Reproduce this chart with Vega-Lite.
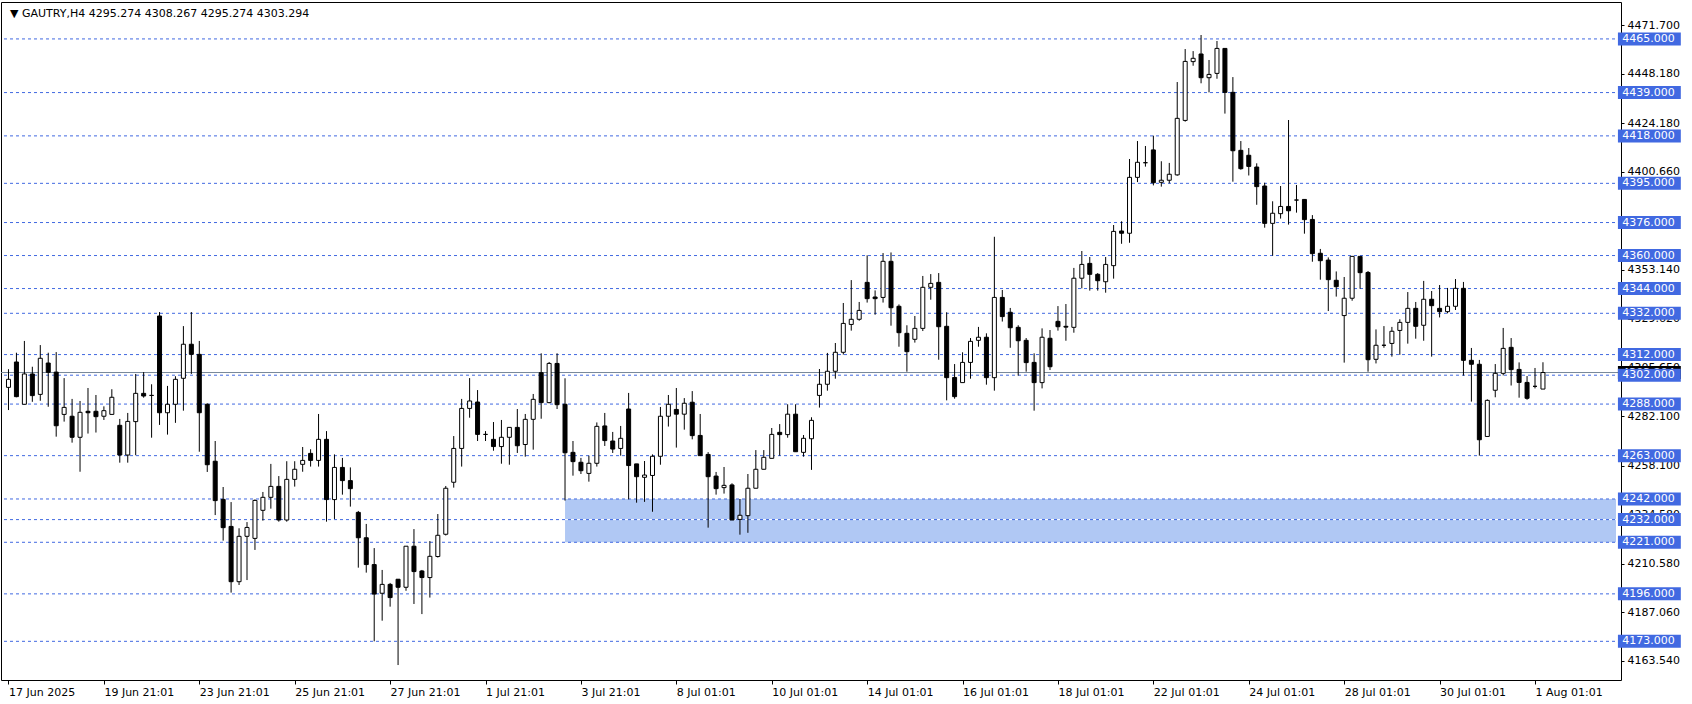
{
  "$schema": "https://vega.github.io/schema/vega-lite/v6.json",
  "width": 1620,
  "height": 678,
  "autosize": {"type": "none"},
  "padding": {"left": 1, "top": 2, "right": 71, "bottom": 24},
  "background": "white",
  "config": {"view": {"stroke": "black", "strokeWidth": 1}, "font": "DejaVu Sans"},
  "datasets": {
    "candles": [
      {"i":0,"o":4296.1,"h":4304.9,"l":4285.1,"c":4300.0},
      {"i":1,"o":4308.4,"h":4312.9,"l":4291.3,"c":4291.6},
      {"i":2,"o":4287.9,"h":4318.6,"l":4287.9,"c":4302.6},
      {"i":3,"o":4302.6,"h":4306.1,"l":4289.1,"c":4292.1},
      {"i":4,"o":4292.7,"h":4316.6,"l":4289.6,"c":4310.2},
      {"i":5,"o":4307.9,"h":4312.9,"l":4286.7,"c":4303.4},
      {"i":6,"o":4303.5,"h":4313.2,"l":4272.2,"c":4277.5},
      {"i":7,"o":4283.0,"h":4300.6,"l":4279.5,"c":4286.4},
      {"i":8,"o":4282.1,"h":4290.5,"l":4269.3,"c":4271.9},
      {"i":9,"o":4271.9,"h":4289.5,"l":4255.2,"c":4284.0},
      {"i":10,"o":4284.5,"h":4295.8,"l":4273.7,"c":4283.8},
      {"i":11,"o":4284.5,"h":4292.4,"l":4274.2,"c":4281.9},
      {"i":12,"o":4282.1,"h":4286.9,"l":4280.3,"c":4284.8},
      {"i":13,"o":4283.0,"h":4295.2,"l":4283.0,"c":4291.3},
      {"i":14,"o":4277.7,"h":4280.8,"l":4259.6,"c":4263.3},
      {"i":15,"o":4263.3,"h":4283.7,"l":4259.6,"c":4279.6},
      {"i":16,"o":4279.5,"h":4302.6,"l":4263.2,"c":4293.2},
      {"i":17,"o":4293.2,"h":4303.5,"l":4291.1,"c":4291.9},
      {"i":18,"o":4292.2,"h":4297.6,"l":4271.7,"c":4292.2},
      {"i":19,"o":4330.7,"h":4332.6,"l":4277.9,"c":4283.8},
      {"i":20,"o":4283.8,"h":4296.8,"l":4273.2,"c":4287.9},
      {"i":21,"o":4287.9,"h":4301.5,"l":4278.9,"c":4300.0},
      {"i":22,"o":4300.5,"h":4325.8,"l":4284.8,"c":4317.0},
      {"i":23,"o":4317.0,"h":4332.6,"l":4302.6,"c":4312.1},
      {"i":24,"o":4312.1,"h":4318.6,"l":4264.9,"c":4283.8},
      {"i":25,"o":4287.9,"h":4288.4,"l":4255.1,"c":4258.6},
      {"i":26,"o":4260.3,"h":4270.1,"l":4234.2,"c":4241.2},
      {"i":27,"o":4241.8,"h":4247.8,"l":4221.8,"c":4228.1},
      {"i":28,"o":4228.7,"h":4240.5,"l":4196.6,"c":4201.9},
      {"i":29,"o":4201.9,"h":4227.8,"l":4200.3,"c":4223.9},
      {"i":30,"o":4223.9,"h":4230.8,"l":4202.7,"c":4228.2},
      {"i":31,"o":4222.9,"h":4241.8,"l":4217.3,"c":4241.3},
      {"i":32,"o":4236.5,"h":4245.4,"l":4231.5,"c":4242.8},
      {"i":33,"o":4242.8,"h":4259.0,"l":4237.3,"c":4248.1},
      {"i":34,"o":4248.1,"h":4253.1,"l":4231.0,"c":4231.8},
      {"i":35,"o":4231.8,"h":4260.3,"l":4231.0,"c":4251.5},
      {"i":36,"o":4251.5,"h":4260.3,"l":4248.0,"c":4256.4},
      {"i":37,"o":4258.8,"h":4267.2,"l":4255.2,"c":4260.7},
      {"i":38,"o":4264.1,"h":4266.1,"l":4257.7,"c":4260.7},
      {"i":39,"o":4260.7,"h":4283.2,"l":4257.7,"c":4270.9},
      {"i":40,"o":4270.9,"h":4274.9,"l":4231.0,"c":4241.7},
      {"i":41,"o":4241.7,"h":4263.6,"l":4232.3,"c":4257.3},
      {"i":42,"o":4257.3,"h":4261.9,"l":4244.1,"c":4250.9},
      {"i":43,"o":4250.9,"h":4257.3,"l":4238.3,"c":4247.0},
      {"i":44,"o":4235.5,"h":4236.2,"l":4208.7,"c":4223.2},
      {"i":45,"o":4223.2,"h":4229.9,"l":4206.3,"c":4210.2},
      {"i":46,"o":4210.2,"h":4218.2,"l":4173.0,"c":4195.9},
      {"i":47,"o":4196.3,"h":4207.6,"l":4183.0,"c":4200.6},
      {"i":48,"o":4200.6,"h":4201.3,"l":4189.8,"c":4194.2},
      {"i":49,"o":4203.1,"h":4203.1,"l":4161.5,"c":4199.2},
      {"i":50,"o":4199.2,"h":4219.1,"l":4197.5,"c":4219.1},
      {"i":51,"o":4219.1,"h":4227.4,"l":4191.1,"c":4206.8},
      {"i":52,"o":4207.1,"h":4207.6,"l":4186.2,"c":4203.9},
      {"i":53,"o":4203.9,"h":4221.6,"l":4194.2,"c":4214.2},
      {"i":54,"o":4214.1,"h":4234.7,"l":4213.6,"c":4224.4},
      {"i":55,"o":4224.9,"h":4248.3,"l":4224.3,"c":4247.2},
      {"i":56,"o":4250.1,"h":4272.5,"l":4247.5,"c":4266.5},
      {"i":57,"o":4266.5,"h":4290.5,"l":4257.7,"c":4285.9},
      {"i":58,"o":4285.9,"h":4300.6,"l":4281.4,"c":4289.5},
      {"i":59,"o":4289.0,"h":4294.8,"l":4270.1,"c":4273.3},
      {"i":60,"o":4273.3,"h":4274.9,"l":4270.1,"c":4273.3},
      {"i":61,"o":4270.9,"h":4279.3,"l":4265.4,"c":4267.4},
      {"i":62,"o":4267.4,"h":4280.3,"l":4259.1,"c":4271.9},
      {"i":63,"o":4271.9,"h":4276.7,"l":4258.6,"c":4276.7},
      {"i":64,"o":4276.7,"h":4285.6,"l":4264.3,"c":4267.8},
      {"i":65,"o":4268.4,"h":4283.2,"l":4262.5,"c":4280.6},
      {"i":66,"o":4280.6,"h":4292.9,"l":4265.9,"c":4290.3},
      {"i":67,"o":4303.2,"h":4312.6,"l":4280.9,"c":4288.7},
      {"i":68,"o":4288.7,"h":4308.4,"l":4288.4,"c":4307.7},
      {"i":69,"o":4307.7,"h":4312.6,"l":4285.6,"c":4287.7},
      {"i":70,"o":4287.9,"h":4300.5,"l":4241.2,"c":4264.4},
      {"i":71,"o":4264.6,"h":4270.1,"l":4253.3,"c":4260.1},
      {"i":72,"o":4259.8,"h":4261.9,"l":4254.1,"c":4255.7},
      {"i":73,"o":4254.4,"h":4263.0,"l":4250.4,"c":4259.3},
      {"i":74,"o":4259.3,"h":4279.1,"l":4257.7,"c":4277.2},
      {"i":75,"o":4277.4,"h":4283.7,"l":4267.7,"c":4270.3},
      {"i":76,"o":4270.1,"h":4274.5,"l":4264.3,"c":4266.2},
      {"i":77,"o":4266.5,"h":4277.4,"l":4263.0,"c":4271.4},
      {"i":78,"o":4285.6,"h":4293.4,"l":4241.8,"c":4258.2},
      {"i":79,"o":4259.0,"h":4259.0,"l":4240.2,"c":4252.8},
      {"i":80,"o":4252.5,"h":4260.4,"l":4240.6,"c":4253.6},
      {"i":81,"o":4253.4,"h":4263.6,"l":4235.8,"c":4262.7},
      {"i":82,"o":4262.7,"h":4286.6,"l":4258.6,"c":4282.1},
      {"i":83,"o":4282.1,"h":4292.4,"l":4277.1,"c":4287.9},
      {"i":84,"o":4285.4,"h":4295.8,"l":4266.9,"c":4283.1},
      {"i":85,"o":4283.1,"h":4290.9,"l":4275.6,"c":4288.4},
      {"i":86,"o":4288.9,"h":4294.3,"l":4270.9,"c":4272.7},
      {"i":87,"o":4272.8,"h":4283.2,"l":4263.0,"c":4263.0},
      {"i":88,"o":4263.6,"h":4264.7,"l":4228.1,"c":4252.8},
      {"i":89,"o":4253.1,"h":4255.1,"l":4244.1,"c":4247.0},
      {"i":90,"o":4247.5,"h":4257.5,"l":4244.6,"c":4248.6},
      {"i":91,"o":4248.8,"h":4249.6,"l":4231.8,"c":4231.8},
      {"i":92,"o":4232.1,"h":4242.0,"l":4224.7,"c":4234.1},
      {"i":93,"o":4233.9,"h":4254.1,"l":4225.6,"c":4247.2},
      {"i":94,"o":4247.2,"h":4265.7,"l":4247.2,"c":4256.4},
      {"i":95,"o":4256.4,"h":4265.7,"l":4256.4,"c":4262.2},
      {"i":96,"o":4261.7,"h":4276.4,"l":4261.7,"c":4273.3},
      {"i":97,"o":4274.3,"h":4278.3,"l":4263.0,"c":4273.2},
      {"i":98,"o":4273.2,"h":4287.9,"l":4271.7,"c":4283.1},
      {"i":99,"o":4283.1,"h":4287.9,"l":4264.9,"c":4264.9},
      {"i":100,"o":4264.6,"h":4273.0,"l":4262.5,"c":4271.4},
      {"i":101,"o":4271.2,"h":4281.6,"l":4256.1,"c":4280.1},
      {"i":102,"o":4292.2,"h":4305.0,"l":4286.3,"c":4297.6},
      {"i":103,"o":4297.6,"h":4312.8,"l":4294.5,"c":4303.9},
      {"i":104,"o":4303.9,"h":4317.6,"l":4300.3,"c":4313.1},
      {"i":105,"o":4313.1,"h":4337.0,"l":4312.0,"c":4327.1},
      {"i":106,"o":4326.6,"h":4348.1,"l":4323.6,"c":4329.1},
      {"i":107,"o":4329.1,"h":4337.5,"l":4328.4,"c":4333.4},
      {"i":108,"o":4347.0,"h":4360.1,"l":4337.2,"c":4339.1},
      {"i":109,"o":4339.9,"h":4343.1,"l":4331.3,"c":4339.1},
      {"i":110,"o":4339.7,"h":4361.2,"l":4337.2,"c":4357.2},
      {"i":111,"o":4357.2,"h":4361.5,"l":4326.0,"c":4334.7},
      {"i":112,"o":4335.4,"h":4336.3,"l":4315.8,"c":4322.6},
      {"i":113,"o":4322.3,"h":4326.2,"l":4303.7,"c":4313.4},
      {"i":114,"o":4319.4,"h":4330.7,"l":4317.8,"c":4324.7},
      {"i":115,"o":4324.7,"h":4350.1,"l":4323.4,"c":4344.6},
      {"i":116,"o":4344.6,"h":4351.0,"l":4338.6,"c":4346.5},
      {"i":117,"o":4347.0,"h":4351.5,"l":4309.5,"c":4325.5},
      {"i":118,"o":4325.7,"h":4332.5,"l":4289.8,"c":4300.8},
      {"i":119,"o":4300.9,"h":4307.4,"l":4290.6,"c":4291.6},
      {"i":120,"o":4298.4,"h":4313.1,"l":4298.4,"c":4308.2},
      {"i":121,"o":4308.2,"h":4320.0,"l":4300.3,"c":4318.4},
      {"i":122,"o":4318.9,"h":4325.4,"l":4315.8,"c":4320.4},
      {"i":123,"o":4320.4,"h":4322.3,"l":4297.4,"c":4300.8},
      {"i":124,"o":4300.8,"h":4369.1,"l":4294.5,"c":4339.7},
      {"i":125,"o":4339.7,"h":4343.3,"l":4328.0,"c":4330.4},
      {"i":126,"o":4332.5,"h":4334.6,"l":4315.3,"c":4325.0},
      {"i":127,"o":4325.2,"h":4326.2,"l":4301.8,"c":4318.7},
      {"i":128,"o":4318.9,"h":4320.0,"l":4303.7,"c":4308.1},
      {"i":129,"o":4308.2,"h":4312.6,"l":4284.8,"c":4298.4},
      {"i":130,"o":4298.4,"h":4324.7,"l":4295.6,"c":4320.4},
      {"i":131,"o":4319.9,"h":4323.9,"l":4304.5,"c":4306.1},
      {"i":132,"o":4328.1,"h":4335.5,"l":4323.6,"c":4325.5},
      {"i":133,"o":4325.7,"h":4336.5,"l":4318.7,"c":4325.3},
      {"i":134,"o":4325.2,"h":4354.0,"l":4322.6,"c":4349.0},
      {"i":135,"o":4349.0,"h":4362.2,"l":4344.1,"c":4355.7},
      {"i":136,"o":4356.2,"h":4359.3,"l":4343.0,"c":4350.9},
      {"i":137,"o":4350.9,"h":4351.5,"l":4343.0,"c":4347.8},
      {"i":138,"o":4347.3,"h":4359.3,"l":4342.0,"c":4355.7},
      {"i":139,"o":4355.1,"h":4374.8,"l":4348.8,"c":4371.7},
      {"i":140,"o":4371.9,"h":4376.6,"l":4365.7,"c":4370.8},
      {"i":141,"o":4370.8,"h":4406.8,"l":4366.2,"c":4397.9},
      {"i":142,"o":4397.9,"h":4415.5,"l":4395.6,"c":4405.2},
      {"i":143,"o":4405.0,"h":4413.1,"l":4403.1,"c":4405.0},
      {"i":144,"o":4411.2,"h":4418.1,"l":4394.0,"c":4395.3},
      {"i":145,"o":4395.5,"h":4405.7,"l":4393.4,"c":4396.5},
      {"i":146,"o":4396.5,"h":4404.9,"l":4395.0,"c":4399.4},
      {"i":147,"o":4399.1,"h":4444.1,"l":4398.7,"c":4426.5},
      {"i":148,"o":4425.5,"h":4460.1,"l":4424.9,"c":4454.1},
      {"i":149,"o":4454.0,"h":4459.1,"l":4452.0,"c":4455.6},
      {"i":150,"o":4457.7,"h":4466.9,"l":4443.5,"c":4446.2},
      {"i":151,"o":4446.2,"h":4454.8,"l":4439.1,"c":4447.8},
      {"i":152,"o":4448.3,"h":4464.0,"l":4445.7,"c":4460.4},
      {"i":153,"o":4460.4,"h":4460.4,"l":4428.8,"c":4439.1},
      {"i":154,"o":4439.1,"h":4446.5,"l":4395.8,"c":4410.8},
      {"i":155,"o":4411.0,"h":4415.5,"l":4401.6,"c":4402.1},
      {"i":156,"o":4408.6,"h":4412.1,"l":4398.8,"c":4403.2},
      {"i":157,"o":4402.9,"h":4404.7,"l":4384.6,"c":4393.4},
      {"i":158,"o":4393.7,"h":4395.3,"l":4373.5,"c":4375.6},
      {"i":159,"o":4375.6,"h":4386.3,"l":4359.9,"c":4380.5},
      {"i":160,"o":4380.3,"h":4393.7,"l":4377.9,"c":4383.8},
      {"i":161,"o":4383.8,"h":4425.7,"l":4375.0,"c":4381.7},
      {"i":162,"o":4386.9,"h":4394.2,"l":4380.8,"c":4386.9},
      {"i":163,"o":4387.2,"h":4387.2,"l":4370.6,"c":4377.4},
      {"i":164,"o":4377.5,"h":4379.6,"l":4357.0,"c":4360.9},
      {"i":165,"o":4361.1,"h":4363.2,"l":4348.3,"c":4357.5},
      {"i":166,"o":4357.8,"h":4359.1,"l":4333.1,"c":4348.3},
      {"i":167,"o":4348.0,"h":4352.3,"l":4340.1,"c":4344.9},
      {"i":168,"o":4330.9,"h":4349.6,"l":4308.1,"c":4339.3},
      {"i":169,"o":4339.3,"h":4359.6,"l":4338.1,"c":4359.6},
      {"i":170,"o":4359.6,"h":4359.6,"l":4343.9,"c":4351.7},
      {"i":171,"o":4351.8,"h":4352.5,"l":4303.7,"c":4309.5},
      {"i":172,"o":4309.7,"h":4324.2,"l":4307.7,"c":4316.5},
      {"i":173,"o":4316.5,"h":4325.8,"l":4315.3,"c":4316.5},
      {"i":174,"o":4317.4,"h":4325.4,"l":4311.0,"c":4323.3},
      {"i":175,"o":4323.7,"h":4329.1,"l":4311.9,"c":4327.6},
      {"i":176,"o":4327.6,"h":4342.3,"l":4317.3,"c":4334.4},
      {"i":177,"o":4334.4,"h":4337.5,"l":4319.7,"c":4325.7},
      {"i":178,"o":4326.2,"h":4347.7,"l":4318.7,"c":4338.8},
      {"i":179,"o":4338.8,"h":4342.8,"l":4311.0,"c":4335.7},
      {"i":180,"o":4334.4,"h":4345.7,"l":4330.0,"c":4332.8},
      {"i":181,"o":4332.8,"h":4344.3,"l":4332.0,"c":4335.4},
      {"i":182,"o":4335.4,"h":4348.6,"l":4333.6,"c":4344.1},
      {"i":183,"o":4344.1,"h":4347.2,"l":4301.8,"c":4309.2},
      {"i":184,"o":4309.2,"h":4315.2,"l":4289.2,"c":4307.3},
      {"i":185,"o":4307.3,"h":4309.4,"l":4263.0,"c":4270.7},
      {"i":186,"o":4272.3,"h":4290.3,"l":4272.3,"c":4289.8},
      {"i":187,"o":4294.7,"h":4307.4,"l":4291.3,"c":4302.9},
      {"i":188,"o":4302.9,"h":4324.9,"l":4301.9,"c":4315.0},
      {"i":189,"o":4315.5,"h":4320.0,"l":4297.0,"c":4304.7},
      {"i":190,"o":4304.8,"h":4308.2,"l":4291.1,"c":4298.5},
      {"i":191,"o":4298.5,"h":4301.6,"l":4290.1,"c":4290.8},
      {"i":192,"o":4296.6,"h":4305.5,"l":4295.6,"c":4296.6},
      {"i":193,"o":4295.274,"h":4308.267,"l":4295.274,"c":4303.294}
    ],
    "levels": [
      {"p":4465,"label":"4465.000"},{"p":4439,"label":"4439.000"},{"p":4418,"label":"4418.000"},
      {"p":4395,"label":"4395.000"},{"p":4376,"label":"4376.000"},{"p":4360,"label":"4360.000"},
      {"p":4344,"label":"4344.000"},{"p":4332,"label":"4332.000"},{"p":4312,"label":"4312.000"},
      {"p":4302,"label":"4302.000"},{"p":4288,"label":"4288.000"},{"p":4263,"label":"4263.000"},
      {"p":4242,"label":"4242.000"},{"p":4232,"label":"4232.000"},{"p":4221,"label":"4221.000"},
      {"p":4196,"label":"4196.000"},{"p":4173,"label":"4173.000"}
    ],
    "zone": [{"from":70,"lo":4221,"hi":4242,"mid":4232}],
    "bid": [{"p":4303.294,"label":"4303.294"}],
    "header": [{"text":"▼  GAUTRY,H4  4295.274 4308.267 4295.274 4303.294"}]
  },
  "layer": [
    {
      "data": {"name": "zone"},
      "mark": {"type": "rect", "color": "#b0c8f4"},
      "encoding": {
        "x": {"field": "from", "type": "quantitative", "title": null, "scale": {"domain": [-0.3125, 202.1875], "nice": false, "zero": false},
              "axis": {"values": [0,12,24,36,48,60,72,84,96,108,120,132,144,156,168,180,192], "labelExpr": "['17 Jun 2025','19 Jun 21:01','23 Jun 21:01','25 Jun 21:01','27 Jun 21:01','1 Jul 21:01','3 Jul 21:01','8 Jul 01:01','10 Jul 01:01','14 Jul 01:01','16 Jul 01:01','18 Jul 01:01','22 Jul 01:01','24 Jul 01:01','28 Jul 01:01','30 Jul 01:01','1 Aug 01:01'][round(datum.value/12)]", "title": null, "grid": false, "domain": false, "tickColor": "black", "tickSize": 4, "labelAlign": "left", "labelBaseline": "top", "labelPadding": 2, "labelFlush": false, "labelOverlap": false, "labelFont": "DejaVu Sans", "labelFontSize": 11, "labelColor": "black"}},
        "x2": {"datum": 202.1875},
        "y": {"field": "lo", "type": "quantitative", "title": null, "scale": {"domain": [4154.25, 4482.9], "nice": false, "zero": false},
              "axis": {"orient": "right", "values": [4163.54,4187.06,4210.58,4234.58,4258.1,4282.1,4305.65,4329.62,4353.14,4400.66,4424.18,4448.18,4471.7], "format": ".3f", "title": null, "grid": false, "domain": false, "tickColor": "black", "tickSize": 3, "labelAlign": "left", "labelBaseline": "middle", "labelPadding": 3, "labelFlush": false, "labelOverlap": false, "labelFont": "DejaVu Sans", "labelFontSize": 11, "labelColor": "black"}},
        "y2": {"field": "hi"}
      }
    },
    {
      "data": {"name": "levels"},
      "mark": {"type": "rule", "color": "#4169e1", "strokeWidth": 1, "strokeDash": [3, 3]},
      "encoding": {
        "y": {"field": "p", "type": "quantitative", "title": null}
      }
    },
    {
      "data": {"name": "zone"},
      "mark": {"type": "rule", "color": "white", "strokeWidth": 1, "strokeDash": [3, 3]},
      "encoding": {
        "x": {"field": "from", "type": "quantitative", "title": null},
        "x2": {"datum": 202.1875},
        "y": {"field": "mid", "type": "quantitative", "title": null}
      }
    },
    {
      "data": {"name": "bid"},
      "mark": {"type": "rule", "color": "#778899", "strokeWidth": 1},
      "encoding": {
        "y": {"field": "p", "type": "quantitative", "title": null}
      }
    },
    {
      "data": {"name": "candles"},
      "mark": {"type": "rule", "color": "black", "strokeWidth": 1},
      "encoding": {
        "x": {"field": "i", "type": "quantitative", "title": null},
        "y": {"field": "l", "type": "quantitative", "title": null},
        "y2": {"field": "h"}
      }
    },
    {
      "data": {"name": "candles"},
      "mark": {"type": "bar", "width": 4, "stroke": "black", "strokeWidth": 1},
      "encoding": {
        "x": {"field": "i", "type": "quantitative", "title": null},
        "y": {"field": "o", "type": "quantitative", "title": null},
        "y2": {"field": "c"},
        "fill": {"condition": {"test": "datum.c >= datum.o", "value": "white"}, "value": "black"}
      }
    },
    {
      "data": {"name": "header"},
      "mark": {"type": "text", "color": "black", "align": "left", "baseline": "alphabetic", "font": "DejaVu Sans", "fontSize": 11},
      "encoding": {
        "x": {"datum": 0.19, "type": "quantitative", "title": null},
        "y": {"datum": 4475.6, "type": "quantitative", "title": null},
        "text": {"field": "text"}
      }
    },
    {
      "data": {"name": "bid"},
      "mark": {"type": "rule", "color": "black", "strokeWidth": 13, "strokeCap": "butt", "clip": false},
      "encoding": {
        "x": {"datum": 202.43, "type": "quantitative", "title": null},
        "x2": {"datum": 210.34},
        "y": {"field": "p", "type": "quantitative", "title": null}
      }
    },
    {
      "data": {"name": "bid"},
      "mark": {"type": "text", "color": "white", "align": "left", "baseline": "middle", "font": "DejaVu Sans", "fontSize": 11, "clip": false},
      "encoding": {
        "x": {"datum": 202.96, "type": "quantitative", "title": null},
        "y": {"field": "p", "type": "quantitative", "title": null},
        "text": {"field": "label"}
      }
    },
    {
      "data": {"name": "levels"},
      "mark": {"type": "rule", "color": "#4169e1", "strokeWidth": 13, "strokeCap": "butt", "clip": false},
      "encoding": {
        "x": {"datum": 202.43, "type": "quantitative", "title": null},
        "x2": {"datum": 210.34},
        "y": {"field": "p", "type": "quantitative", "title": null}
      }
    },
    {
      "data": {"name": "levels"},
      "mark": {"type": "text", "color": "white", "align": "left", "baseline": "middle", "font": "DejaVu Sans", "fontSize": 11, "clip": false},
      "encoding": {
        "x": {"datum": 202.96, "type": "quantitative", "title": null},
        "y": {"field": "p", "type": "quantitative", "title": null},
        "text": {"field": "label"}
      }
    }
  ]
}
